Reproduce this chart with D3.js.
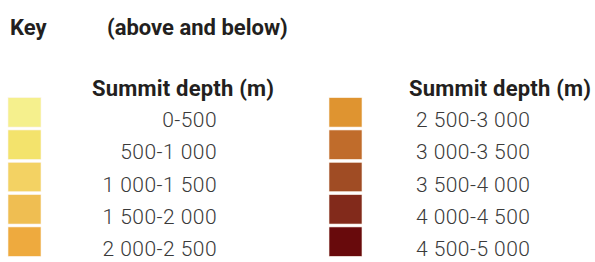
<!DOCTYPE html>
<html lang="en"><head>
<meta charset="utf-8">
<title>key</title>
<script src="https://cdn.jsdelivr.net/npm/d3@7"></script>
<style>
  body { margin: 0; background: #fff; }
  text { font-family: Roboto, "Liberation Sans", sans-serif; }
</style>
</head>
<body>
<svg width="595" height="262"></svg>
<script>
// depth classes, split in two columns of five
var leftRanges = ["0-500", "500-1 000", "1 000-1 500", "1 500-2 000", "2 000-2 500"];
var rightRanges = ["2 500-3 000", "3 000-3 500", "3 500-4 000", "4 000-4 500", "4 500-5 000"];
var leftColors = ["#f5f08d", "#f3e36c", "#f3d263", "#efbe52", "#eeaa3e"];
var rightColors = ["#df9430", "#c06c2b", "#a04c24", "#822a1b", "#680a0c"];
var heading = "Summit depth (m)";

var svg = d3.select("svg");

svg.append("text").attr("x", 10).attr("y", 35)
  .attr("font-weight", "bold").attr("font-size", 22).attr("fill", "#231f20")
  .text("Key");
svg.append("text").attr("x", 107).attr("y", 35)
  .attr("font-weight", "bold").attr("font-size", 22).attr("fill", "#231f20")
  .text("(above and below)");

var y = d3.scaleBand().domain(d3.range(5)).range([97, 257]).paddingInner(0.09).paddingOuter(0.02);

function column(ranges, colors, swatchX, headX, labelX, anchor) {
  var g = svg.append("g");
  g.append("text").attr("x", headX).attr("y", 95.5)
    .attr("font-weight", "bold").attr("font-size", 22).attr("fill", "#231f20")
    .attr("letter-spacing", 0.2)
    .text(heading);
  g.selectAll("rect").data(ranges).enter().append("rect")
    .attr("x", swatchX)
    .attr("y", function(d, i) { return y(i); })
    .attr("width", 33)
    .attr("height", y.bandwidth())
    .attr("fill", function(d, i) { return colors[i]; })
    .attr("stroke", "#fbf3ea").attr("stroke-width", 0.6);
  g.selectAll("text.lab").data(ranges).enter().append("text")
    .attr("class", "lab")
    .attr("x", labelX)
    .attr("y", function(d, i) { return y(i) + 29.5; })
    .attr("text-anchor", anchor)
    .attr("font-size", 21).attr("font-weight", 300).attr("fill", "#3a3a3a")
    .attr("letter-spacing", 0.45)
    .text(function(d) { return d; });
}

column(leftRanges, leftColors, 8, 92, 217, "end");
column(rightRanges, rightColors, 329, 409, 416, "start");
</script>
</body>
</html>
